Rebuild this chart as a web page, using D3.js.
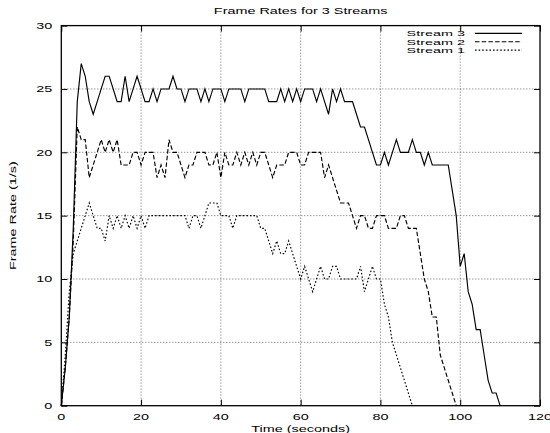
<!DOCTYPE html>
<html>
<head>
<meta charset="utf-8">
<script src="https://cdn.jsdelivr.net/npm/d3@7"></script>
<style>
  html, body { margin: 0; padding: 0; background: #fff; }
  svg { display: block; }
  text { font-family: "Liberation Sans", Arial, Helvetica, sans-serif; fill: #000; }
</style>
</head>
<body>
<svg id="chart" width="550" height="433"></svg>
<script>
// ---- data (one sample per second, index = time in seconds) ----
const stream3 = [0,3,7,14,24,27,26,24,23,24, 25,26,26,25,24,24,26,24,25,26,
  25,24,24,25,24,25,25,25,26,25, 25,24,25,25,25,24,25,24,25,25,
  25,24,25,25,25,25,24,25,25,25, 25,25,24,24,24,25,24,25,24,25,
  24,25,25,25,24,25,24,23,25,24, 25,24,24,24,23,22,22,21,20,19,
  19,20,19,20,21,20,20,20,21,20, 20,19,20,19,19,19,19,19,17,15,
  11,12,9,8,6,6,4,2,1,1, 0];
const stream2 = [0,3,7,13,22,21,21,18,19,20, 21,20,21,20,21,19,19,19,20,20,
  19,20,20,20,18,19,18,21,20,20, 19,18,19,19,20,20,20,19,19,20,
  18,20,19,19,20,19,20,19,20,19, 20,20,19,18,19,19,19,20,20,20,
  19,19,20,20,20,20,18,19,18,17, 16,16,16,15,14,15,15,14,14,15,
  15,15,14,14,14,15,15,14,14,14, 12,10,9,7,7,4,3,2,1,0];
const stream1 = [0,4,9,12,13,14,15,16,15,14, 14,13,15,14,15,14,15,14,15,14,
  15,14,15,15,15,15,15,15,15,15, 15,15,14,15,15,14,15,16,16,16,
  15,15,15,14,15,15,15,15,15,15, 14,14,13,12,13,12,12,13,12,11,
  10,11,10,9,10,11,10,10,11,11, 10,10,10,10,10,11,9,10,11,10,
  10,8,7,5,4,3,2,1,0];
const seriesNames = ["Stream 3", "Stream 2", "Stream 1"];
const xTicks = [0, 20, 40, 60, 80, 100, 120];
const yTicks = [0, 5, 10, 15, 20, 25, 30];
const titleText = "Frame Rates for 3 Streams";
const xLabel = "Time (seconds)";
const yLabel = "Frame Rate (1/s)";

// ---- layout ----
const svg = d3.select("#chart");
const pL = 61.3, pR = 540, pT = 25.6, pB = 405.7;
const x = d3.scaleLinear().domain([0, 120]).range([pL, pR]);
const y = d3.scaleLinear().domain([0, 30]).range([pB, pT]);
const FS = 9, SX = 1.6;

const series = [
  { name: seriesNames[0], values: stream3, dash: null },
  { name: seriesNames[1], values: stream2, dash: "4.5,2.2" },
  { name: seriesNames[2], values: stream1, dash: "1.6,2" }
];

function label(xp, yp, str, anchor, rot, sy) {
  const g = svg.append("g")
    .attr("transform", `translate(${xp},${yp}) rotate(${rot || 0}) scale(${SX},${sy || 1})`);
  g.append("text").attr("x", 0).attr("y", 0)
    .attr("text-anchor", anchor).attr("font-size", FS).text(str);
}

// grid
const grid = svg.append("g");
grid.selectAll("line.vx").data(xTicks.filter(d => d > 0 && d < 120)).join("line")
  .attr("x1", d => x(d)).attr("x2", d => x(d)).attr("y1", pT).attr("y2", pB)
  .attr("stroke", "#444").attr("stroke-width", 0.8).attr("stroke-dasharray", "1,2");
grid.selectAll("line.hy").data(yTicks.filter(d => d > 0 && d < 30)).join("line")
  .attr("x1", pL).attr("x2", pR).attr("y1", d => y(d)).attr("y2", d => y(d))
  .attr("stroke", "#444").attr("stroke-width", 0.8).attr("stroke-dasharray", "1,2");

// axes (inward ticks, mirrored)
const axB = svg.append("g").attr("transform", `translate(0,${pB})`)
  .call(d3.axisBottom(x).tickValues(xTicks).tickSize(-6).tickFormat(""));
const axT = svg.append("g").attr("transform", `translate(0,${pT})`)
  .call(d3.axisTop(x).tickValues(xTicks).tickSize(-6).tickFormat(""));
const axL = svg.append("g").attr("transform", `translate(${pL},0)`)
  .call(d3.axisLeft(y).tickValues(yTicks).tickSize(-6).tickFormat(""));
const axR = svg.append("g").attr("transform", `translate(${pR},0)`)
  .call(d3.axisRight(y).tickValues(yTicks).tickSize(-6).tickFormat(""));
[axB, axT, axL, axR].forEach(a => {
  a.select(".domain").remove();
  a.selectAll(".tick line").attr("stroke", "#000").attr("stroke-width", 1);
});

// tick labels
xTicks.forEach(d => label(x(d), 420, String(d), "middle"));
yTicks.forEach(d => label(pL - 9, y(d) + 3.3, String(d), "end"));

// data lines
const line = d3.line().x((d, i) => x(i)).y(d => y(d));
svg.append("g").selectAll("path").data(series).join("path")
  .attr("d", s => line(s.values))
  .attr("fill", "none").attr("stroke", "#000").attr("stroke-width", 1.15)
  .attr("stroke-linejoin", "miter")
  .attr("stroke-dasharray", s => s.dash);

// border
svg.append("rect").attr("x", pL).attr("y", pT)
  .attr("width", pR - pL).attr("height", pB - pT)
  .attr("fill", "none").attr("stroke", "#000").attr("stroke-width", 1.3);

// legend
series.forEach((s, i) => {
  const ly = 33.4 + i * 8.35;
  label(465, ly + 3.0, s.name, "end", 0, 0.8);
  svg.append("line").attr("x1", 475).attr("x2", 522).attr("y1", ly).attr("y2", ly)
    .attr("stroke", "#000").attr("stroke-width", 1.1)
    .attr("stroke-dasharray", s.dash);
});

// titles
label(x(60), 14, titleText, "middle");
label(x(60), 432, xLabel, "middle");
label(16, (pT + pB) / 2, yLabel, "middle", -90);
</script>
</body>
</html>
